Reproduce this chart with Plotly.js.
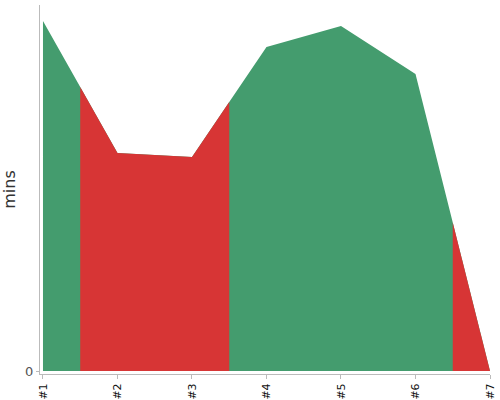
<!DOCTYPE html>
<html>
<head>
<meta charset="utf-8">
<script src="https://cdn.plot.ly/plotly-3.0.1.min.js"></script>
<style>html,body{margin:0;padding:0;background:#fff;}#chart{width:500px;height:400px;}</style>
</head>
<body>
<div id="chart"></div>
<script>
var categories = ["#1", "#2", "#3", "#4", "#5", "#6", "#7"];
var minutes = [35.0, 21.8, 21.4, 32.4, 34.5, 29.7, 0];
var pointStatus = ["good", "bad", "bad", "good", "good", "good", "bad"];
var statusColors = {good: "#449c6e", bad: "#d73535"};

var xIdx = categories.map(function (c, i) { return i; });

// Base area in the "good" colour, then "bad" runs drawn on top
// (each point owns the half-interval on each side).
var traces = [{
  x: xIdx, y: minutes, type: "scatter", mode: "lines",
  fill: "tozeroy", fillcolor: statusColors.good,
  line: {color: statusColors.good, width: 0},
  hoverinfo: "skip", showlegend: false
}];
var runStart = 0;
for (var i = 1; i <= categories.length; i++) {
  if (i === categories.length || pointStatus[i] !== pointStatus[runStart]) {
    if (pointStatus[runStart] !== "good") {
      var xs = [], ys = [];
      var s = runStart, e = i - 1;
      if (s > 0) { xs.push(s - 0.5); ys.push((minutes[s - 1] + minutes[s]) / 2); }
      for (var k = s; k <= e; k++) { xs.push(xIdx[k]); ys.push(minutes[k]); }
      if (e < categories.length - 1) { xs.push(e + 0.5); ys.push((minutes[e] + minutes[e + 1]) / 2); }
      var col = statusColors[pointStatus[s]];
      traces.push({
        x: xs, y: ys, type: "scatter", mode: "lines",
        fill: "tozeroy", fillcolor: col,
        line: {color: col, width: 0},
        hoverinfo: "skip", showlegend: false
      });
    }
    runStart = i;
  }
}

var layout = {
  width: 500, height: 400,
  margin: {l: 40, r: 10, t: 5, b: 26},
  paper_bgcolor: "#fff", plot_bgcolor: "#fff",
  showlegend: false,
  xaxis: {
    range: [-0.04, 6],
    tickvals: xIdx, ticktext: categories,
    tickangle: -90,
    showgrid: false, zeroline: false,
    showline: true, linecolor: "#bbbbbb", linewidth: 1,
    ticks: "outside", ticklen: 4, tickcolor: "#bbbbbb",
    tickfont: {family: "DejaVu Sans, sans-serif", size: 11, color: "#111"}
  },
  yaxis: {
    range: [-0.3, 36.6],
    tickvals: [0], ticktext: ["0"],
    showgrid: false, zeroline: false,
    showline: true, linecolor: "#bbbbbb", linewidth: 1,
    ticks: "outside", ticklen: 3, tickcolor: "#bbbbbb",
    tickfont: {family: "DejaVu Sans, sans-serif", size: 13, color: "#555"},
    title: {text: "mins", font: {family: "DejaVu Sans, sans-serif", size: 16, color: "#333"}, standoff: 7}
  }
};

Plotly.newPlot("chart", traces, layout, {displayModeBar: false, staticPlot: true});
</script>
</body>
</html>
